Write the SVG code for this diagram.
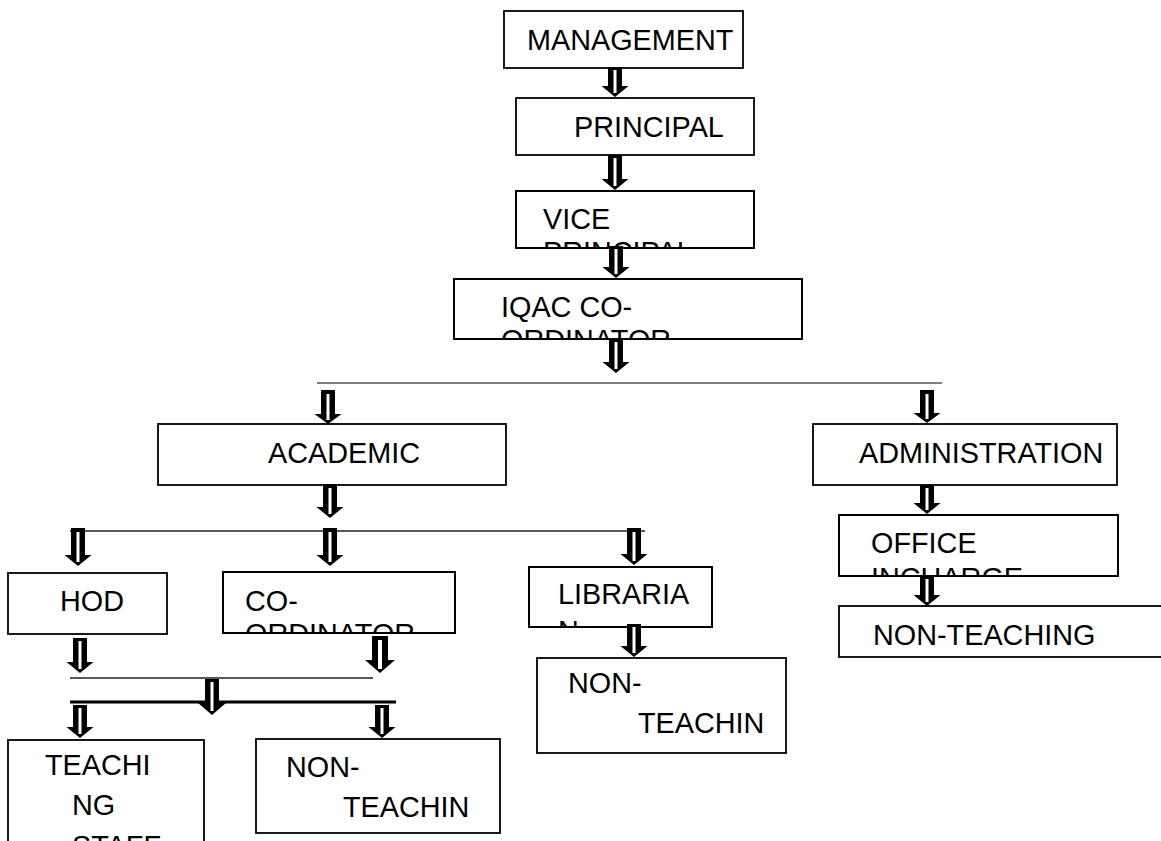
<svg xmlns="http://www.w3.org/2000/svg" width="1161" height="841" viewBox="0 0 1161 841">
<style>
.box{fill:#fff;stroke:#000;stroke-width:1.8}
.t{font-family:"Liberation Sans",Arial,sans-serif;font-size:28.8px;fill:#000}
.ar{fill:#000}
.sl{fill:#fff}
.ln{stroke:#222;stroke-width:1.3;fill:none}
</style>
<defs>
<clipPath id="c3"><rect x="516" y="191" width="238" height="57"/></clipPath>
<clipPath id="c4"><rect x="454" y="279" width="348" height="60"/></clipPath>
<clipPath id="c8"><rect x="223" y="572" width="232" height="61"/></clipPath>
<clipPath id="c9"><rect x="529" y="567" width="183" height="60"/></clipPath>
<clipPath id="c11"><rect x="839" y="515" width="279" height="61"/></clipPath>
<clipPath id="c13"><rect x="8" y="740" width="196" height="120"/></clipPath>
</defs>
<rect width="1161" height="841" fill="#fff"/>
<g id="management"><rect class="box" x="504" y="11" width="239" height="57"/><text class="t" x="527" y="50">MANAGEMENT</text></g>
<g id="principal"><rect class="box" x="516" y="98" width="238" height="57"/><text class="t" x="574" y="137">PRINCIPAL</text></g>
<g id="vice-principal"><rect class="box" x="516" y="191" width="238" height="57"/><g clip-path="url(#c3)"><text class="t" x="543" y="229">VICE</text><text class="t" x="543" y="262">PRINCIPAL</text></g><rect x="516" y="191" width="238" height="57" fill="none" stroke="#000" stroke-width="1.8"/></g>
<g id="iqac"><rect class="box" x="454" y="279" width="348" height="60"/><g clip-path="url(#c4)"><text class="t" x="501" y="317">IQAC CO-</text><text class="t" x="501" y="350">ORDINATOR</text></g><rect x="454" y="279" width="348" height="60" fill="none" stroke="#000" stroke-width="1.8"/></g>
<g id="academic"><rect class="box" x="158" y="424" width="348" height="61"/><text class="t" x="268" y="463">ACADEMIC</text></g>
<g id="administration"><rect class="box" x="813" y="424" width="304" height="61"/><text class="t" x="859" y="463">ADMINISTRATION</text></g>
<g id="hod"><rect class="box" x="8" y="573" width="159" height="61"/><text class="t" x="60" y="611">HOD</text></g>
<g id="coordinator"><rect class="box" x="223" y="572" width="232" height="61"/><g clip-path="url(#c8)"><text class="t" x="245" y="611">CO-</text><text class="t" x="245" y="644">ORDINATOR</text></g><rect x="223" y="572" width="232" height="61" fill="none" stroke="#000" stroke-width="1.8"/></g>
<g id="librarian"><rect class="box" x="529" y="567" width="183" height="60"/><g clip-path="url(#c9)"><text class="t" x="558" y="604">LIBRARIA</text><text class="t" x="558" y="641">N</text></g><rect x="529" y="567" width="183" height="60" fill="none" stroke="#000" stroke-width="1.8"/></g>
<g id="lib-non-teaching"><rect class="box" x="537" y="658" width="249" height="95"/><text class="t" x="568" y="693">NON-</text><text class="t" x="638" y="733">TEACHIN</text></g>
<g id="office-incharge"><rect class="box" x="839" y="515" width="279" height="61"/><g clip-path="url(#c11)"><text class="t" x="871" y="553">OFFICE</text><text class="t" x="871" y="588">INCHARGE</text></g><rect x="839" y="515" width="279" height="61" fill="none" stroke="#000" stroke-width="1.8"/></g>
<g id="adm-non-teaching"><rect class="box" x="839" y="606" width="340" height="51"/><text class="t" x="873" y="645">NON-TEACHING</text></g>
<g id="teaching-staff"><rect class="box" x="8" y="740" width="196" height="120"/><g clip-path="url(#c13)"><text class="t" x="45" y="775">TEACHI</text><text class="t" x="72" y="815">NG</text><text class="t" x="72" y="856">STAFF</text></g></g>
<g id="acad-non-teaching"><rect class="box" x="256" y="739" width="244" height="94"/><text class="t" x="286" y="777">NON-</text><text class="t" x="343" y="817">TEACHIN</text></g>
<g id="connectors">
<line x1="317" y1="383" x2="942" y2="383" stroke="#555" stroke-width="1.6"/>
<line class="ln" x1="70" y1="531" x2="645" y2="531"/>
<line class="ln" x1="70" y1="678" x2="373" y2="678"/>
<line x1="70" y1="702" x2="396" y2="702" stroke="#000" stroke-width="3"/>
<path class="ar" d="M608 67H622V86H628.5L615 97L601.5 86H608Z"/><rect class="sl" x="613.5" y="70" width="3" height="23"/>
<path class="ar" d="M608 155H622V179H628.5L615 190L601.5 179H608Z"/><rect class="sl" x="613.5" y="158" width="3" height="28"/>
<path class="ar" d="M609 246H623V267H629.5L616 278L602.5 267H609Z"/><rect class="sl" x="614.5" y="249" width="3" height="25"/>
<path class="ar" d="M609 339H623V362H629.5L616 373L602.5 362H609Z"/><rect class="sl" x="614.5" y="342" width="3" height="27"/>
<path class="ar" d="M321 390H335V414H341.5L328 424L314.5 414H321Z"/><rect class="sl" x="326.5" y="394" width="3" height="26"/>
<path class="ar" d="M920 390H934V413H940.5L927 423L913.5 413H920Z"/><rect class="sl" x="925.5" y="394" width="3" height="25"/>
<path class="ar" d="M323 484H337V507H343.5L330 518L316.5 507H323Z"/><rect class="sl" x="328.5" y="488" width="3" height="26"/>
<path class="ar" d="M920 485H934V503H940.5L927 514L913.5 503H920Z"/><rect class="sl" x="925.5" y="488" width="3" height="22"/>
<path class="ar" d="M71 528H85V555H91.5L78 566L64.5 555H71Z"/><rect class="sl" x="76.5" y="532" width="3" height="30"/>
<path class="ar" d="M323 528H337V555H343.5L330 566L316.5 555H323Z"/><rect class="sl" x="328.5" y="532" width="3" height="30"/>
<path class="ar" d="M627 528H641V554H647.5L634 565L620.5 554H627Z"/><rect class="sl" x="632.5" y="532" width="3" height="29"/>
<path class="ar" d="M920 576H934V595H940.5L927 606L913.5 595H920Z"/><rect class="sl" x="925.5" y="579" width="3" height="23"/>
<path class="ar" d="M627 624H641V646H647.5L634 657L620.5 646H627Z"/><rect class="sl" x="632.5" y="627" width="3" height="26"/>
<path class="ar" d="M73 638H87V662H93.5L80 673L66.5 662H73Z"/><rect class="sl" x="78.5" y="641" width="3" height="28"/>
<path class="ar" d="M372 636H388V660H395L380 673L365 660H372Z"/><rect class="sl" x="378" y="640" width="4" height="29"/>
<path class="ar" d="M205 679H219V703H226L212 715L198 703H205Z"/><rect class="sl" x="210.5" y="682" width="3" height="29"/>
<path class="ar" d="M73 705H87V727H93.5L80 738L66.5 727H73Z"/><rect class="sl" x="78.5" y="708" width="3" height="26"/>
<path class="ar" d="M375 705H389V727H395.5L382 738L368.5 727H375Z"/><rect class="sl" x="380.5" y="708" width="3" height="26"/>
</g>
</svg>
